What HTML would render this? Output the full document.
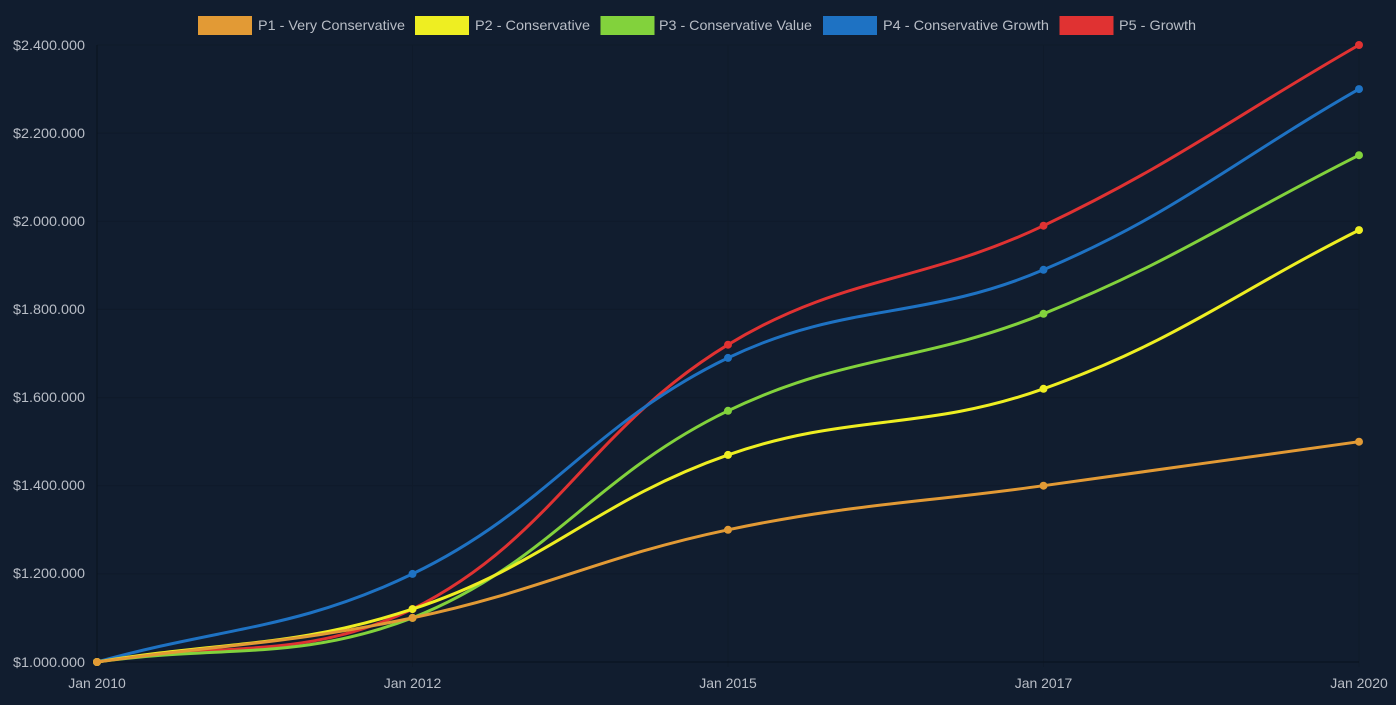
<!DOCTYPE html>
<html><head><meta charset="utf-8"><style>
html,body{margin:0;padding:0;background:#111d2f;}
svg{display:block;}
text{font-family:"Liberation Sans",sans-serif;fill:#b8bdc6;}
</style></head><body>
<svg width="1396" height="705" viewBox="0 0 1396 705" xmlns="http://www.w3.org/2000/svg">
<rect width="1396" height="705" fill="#111d2f"/>
<!-- grid -->
<g stroke="#0f1a2a" stroke-width="1" fill="none">
<line x1="97" y1="45" x2="1359" y2="45"/>
<line x1="97" y1="133.1" x2="1359" y2="133.1"/>
<line x1="97" y1="221.3" x2="1359" y2="221.3"/>
<line x1="97" y1="309.4" x2="1359" y2="309.4"/>
<line x1="97" y1="397.6" x2="1359" y2="397.6"/>
<line x1="97" y1="485.7" x2="1359" y2="485.7"/>
<line x1="97" y1="573.9" x2="1359" y2="573.9"/>
<line x1="412.5" y1="45" x2="412.5" y2="667"/>
<line x1="728" y1="45" x2="728" y2="667"/>
<line x1="1043.5" y1="45" x2="1043.5" y2="667"/>
<line x1="1359" y1="45" x2="1359" y2="667"/>
</g>
<g stroke="#0b1420" stroke-width="1.2">
<line x1="97" y1="45" x2="97" y2="667"/>
<line x1="92" y1="662" x2="1359" y2="662"/>
</g>
<!-- y labels -->
<g font-size="14" text-anchor="end">
<text x="85" y="50" textLength="72" lengthAdjust="spacingAndGlyphs">$2.400.000</text>
<text x="85" y="138" textLength="72" lengthAdjust="spacingAndGlyphs">$2.200.000</text>
<text x="85" y="226" textLength="72" lengthAdjust="spacingAndGlyphs">$2.000.000</text>
<text x="85" y="314" textLength="72" lengthAdjust="spacingAndGlyphs">$1.800.000</text>
<text x="85" y="402" textLength="72" lengthAdjust="spacingAndGlyphs">$1.600.000</text>
<text x="85" y="490" textLength="72" lengthAdjust="spacingAndGlyphs">$1.400.000</text>
<text x="85" y="578" textLength="72" lengthAdjust="spacingAndGlyphs">$1.200.000</text>
<text x="85" y="667" textLength="72" lengthAdjust="spacingAndGlyphs">$1.000.000</text>
</g>
<!-- x labels -->
<g font-size="14" text-anchor="middle">
<text x="97" y="688">Jan 2010</text>
<text x="412.5" y="688">Jan 2012</text>
<text x="728" y="688">Jan 2015</text>
<text x="1043.5" y="688">Jan 2017</text>
<text x="1359" y="688">Jan 2020</text>
</g>
<!-- legend -->
<g font-size="14">
<rect x="198" y="16" width="54" height="19" fill="#e29a35"/>
<text x="258" y="30" textLength="147" lengthAdjust="spacingAndGlyphs">P1 - Very Conservative</text>
<rect x="415" y="16" width="54" height="19" fill="#eeee22"/>
<text x="475" y="30" textLength="115" lengthAdjust="spacingAndGlyphs">P2 - Conservative</text>
<rect x="600.5" y="16" width="54" height="19" fill="#82d23c"/>
<text x="659" y="30" textLength="153" lengthAdjust="spacingAndGlyphs">P3 - Conservative Value</text>
<rect x="823" y="16" width="54" height="19" fill="#1e72c3"/>
<text x="883" y="30" textLength="166" lengthAdjust="spacingAndGlyphs">P4 - Conservative Growth</text>
<rect x="1059.5" y="16" width="54" height="19" fill="#e03232"/>
<text x="1119" y="30" textLength="77" lengthAdjust="spacingAndGlyphs">P5 - Growth</text>
</g>
<!-- series (P5 bottom ... P1 top) -->
<g fill="none" stroke-width="3" stroke-linejoin="round" stroke-linecap="round">
<path stroke="#e03232" d="M97,662 C223.2,640.8 302.1,662 412.5,609.1 C554.5,537.7 589.2,429.0 728,344.7 C841.6,275.6 922.0,283.4 1043.5,225.7 C1174.4,163.5 1232.8,117.3 1359,45"/>
</g>
<g fill="#e03232"><circle cx="97" cy="662" r="4"/><circle cx="412.5" cy="609.1" r="4"/><circle cx="728" cy="344.7" r="4"/><circle cx="1043.5" cy="225.7" r="4"/><circle cx="1359" cy="45" r="4"/></g>
<g fill="none" stroke-width="3" stroke-linejoin="round" stroke-linecap="round">
<path stroke="#1e72c3" d="M97,662 C223.2,626.8 296.0,630.0 412.5,573.9 C548.4,508.4 592.1,423.4 728,357.9 C844.5,301.8 923.9,320.8 1043.5,269.8 C1176.3,213.2 1232.8,161.4 1359,89.1"/>
</g>
<g fill="#1e72c3"><circle cx="97" cy="662" r="4"/><circle cx="412.5" cy="573.9" r="4"/><circle cx="728" cy="357.9" r="4"/><circle cx="1043.5" cy="269.8" r="4"/><circle cx="1359" cy="89.1" r="4"/></g>
<g fill="none" stroke-width="3" stroke-linejoin="round" stroke-linecap="round">
<path stroke="#82d23c" d="M97,662 C223.2,644.4 297.0,662 412.5,617.9 C549.4,563.4 593.3,475.7 728,410.8 C845.7,354.1 921.5,363.2 1043.5,313.8 C1173.9,261.0 1232.8,218.6 1359,155.2"/>
</g>
<g fill="#82d23c"><circle cx="97" cy="662" r="4"/><circle cx="412.5" cy="617.9" r="4"/><circle cx="728" cy="410.8" r="4"/><circle cx="1043.5" cy="313.8" r="4"/><circle cx="1359" cy="155.2" r="4"/></g>
<g fill="none" stroke-width="3" stroke-linejoin="round" stroke-linecap="round">
<path stroke="#eeee22" d="M97,662 C223.2,640.8 292.2,648.6 412.5,609.1 C544.6,565.8 596.4,500.9 728,454.9 C848.8,412.7 923.1,431.7 1043.5,388.8 C1175.5,341.8 1232.8,293.6 1359,230.1"/>
</g>
<g fill="#eeee22"><circle cx="97" cy="662" r="4"/><circle cx="412.5" cy="609.1" r="4"/><circle cx="728" cy="454.9" r="4"/><circle cx="1043.5" cy="388.8" r="4"/><circle cx="1359" cy="230.1" r="4"/></g>
<g fill="none" stroke-width="3" stroke-linejoin="round" stroke-linecap="round">
<path stroke="#e29a35" d="M97,662 C223.2,644.4 288.1,644.0 412.5,617.9 C540.5,591.1 600.0,556.6 728,529.8 C852.4,503.7 917.3,503.3 1043.5,485.7 C1169.7,468.1 1232.8,459.3 1359,441.7"/>
</g>
<g fill="#e29a35"><circle cx="97" cy="662" r="4"/><circle cx="412.5" cy="617.9" r="4"/><circle cx="728" cy="529.8" r="4"/><circle cx="1043.5" cy="485.7" r="4"/><circle cx="1359" cy="441.7" r="4"/></g>
</svg>
</body></html>
